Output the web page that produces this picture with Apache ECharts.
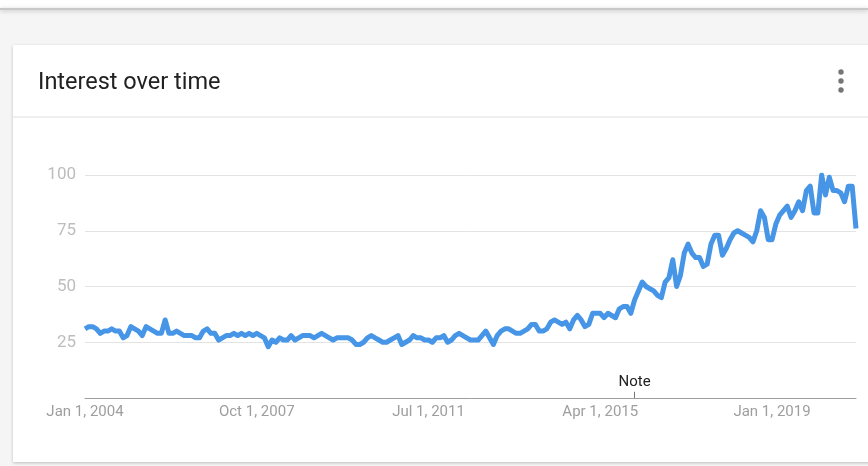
<!DOCTYPE html>
<html>
<head>
<meta charset="utf-8">
<script src="https://cdn.jsdelivr.net/npm/echarts@6/dist/echarts.min.js"></script>
<style>
  html, body { margin: 0; padding: 0; background: #f5f5f5; }
  #chart { width: 868px; height: 466px; }
</style>
</head>
<body>
<div id="chart"></div>
<script>
// ---- data ----
const titleText = 'Interest over time';
const startYear = 2004;
const monthNames = ['Jan','Feb','Mar','Apr','May','Jun','Jul','Aug','Sep','Oct','Nov','Dec'];
const yTicks = [25, 50, 75, 100];
const noteMonth = '2016-01';
const noteText = 'Note';

// monthly interest, Jan 2004 .. Nov 2020
const interest = [
  31,32,32,31,29,30,30,31,30,30,27,28,   // 2004
  32,31,30,28,32,31,30,29,29,35,29,29,   // 2005
  30,29,28,28,28,27,27,30,31,29,29,26,   // 2006
  27,28,28,29,28,29,28,29,28,29,28,27,   // 2007
  23,26,25,27,26,26,28,26,27,28,28,28,   // 2008
  27,28,29,28,27,26,27,27,27,27,26,24,   // 2009
  24,25,27,28,27,26,25,25,26,27,28,24,   // 2010
  25,26,28,27,27,26,26,25,27,27,28,25,   // 2011
  26,28,29,28,27,26,26,26,28,30,27,24,   // 2012
  28,30,31,31,30,29,29,30,31,33,33,30,   // 2013
  30,31,34,35,34,33,34,31,35,37,35,32,   // 2014
  33,38,38,38,36,38,37,36,40,41,41,38,   // 2015
  44,48,52,50,49,48,46,45,52,54,62,50,   // 2016
  55,65,69,65,63,63,59,60,69,73,73,64,   // 2017
  67,71,74,75,74,73,72,70,75,84,81,71,   // 2018
  71,78,82,84,86,81,84,88,84,93,95,83,   // 2019
  83,100,91,99,93,93,92,88,95,95,76      // 2020
];

const months = [];
for (let i = 0; i < interest.length; i++) {
  const y = startYear + Math.floor(i / 12);
  const m = i % 12 + 1;
  months.push(y + '-' + (m < 10 ? '0' + m : m));
}

function fmtDate(cat) {
  const parts = cat.split('-');
  return monthNames[parseInt(parts[1], 10) - 1] + ' 1, ' + parts[0];
}

const chart = echarts.init(document.getElementById('chart'), null, { renderer: 'canvas' });
const option = {
  animation: false,
  backgroundColor: '#f5f5f5',
  textStyle: { fontFamily: 'Roboto, "Noto Sans", sans-serif' },
  title: {
    text: titleText,
    left: 38,
    top: 71,
    padding: 0,
    textStyle: { fontSize: 23.5, fontWeight: 'normal', color: '#212121', fontFamily: 'Roboto' }
  },
  graphic: [
    { type: 'rect', z: -10, shape: { x: 0, y: 0, width: 868, height: 8 }, style: { fill: '#ffffff' } },
    { type: 'rect', z: -9, shape: { x: 0, y: 8, width: 868, height: 2 }, style: { fill: '#c8c8c8', shadowBlur: 4, shadowColor: 'rgba(0,0,0,0.25)', shadowOffsetY: 1 } },
    { type: 'rect', z: -9, shape: { x: 13, y: 45, width: 870, height: 417 }, style: { fill: '#ffffff', shadowBlur: 3, shadowColor: 'rgba(0,0,0,0.22)', shadowOffsetY: 1 } },
    { type: 'rect', z: -8, shape: { x: 13, y: 116.5, width: 870, height: 1 }, style: { fill: '#e0e0e0' } },
    { type: 'circle', z: 5, shape: { cx: 841, cy: 72, r: 2.7 }, style: { fill: '#757575' } },
    { type: 'circle', z: 5, shape: { cx: 841, cy: 81, r: 2.7 }, style: { fill: '#757575' } },
    { type: 'circle', z: 5, shape: { cx: 841, cy: 90, r: 2.7 }, style: { fill: '#757575' } }
  ],
  grid: { left: 85, right: 12, top: 175, bottom: 68, containLabel: false },
  xAxis: {
    type: 'category',
    data: months,
    boundaryGap: false,
    axisLine: { show: true, lineStyle: { color: '#9e9e9e', width: 1 } },
    axisTick: { show: false },
    axisLabel: {
      interval: 44,
      margin: 7,
      color: '#9e9e9e',
      fontSize: 15,
      fontFamily: 'Roboto',
      formatter: function (v) { return fmtDate(v); }
    },
    splitLine: { show: false }
  },
  yAxis: {
    type: 'value',
    min: 0,
    max: 100,
    interval: 25,
    axisLine: { show: false },
    axisTick: { show: false },
    axisLabel: {
      margin: 9,
      color: '#bdbdbd',
      fontSize: 17,
      fontFamily: 'Roboto',
      formatter: function (v) { return yTicks.indexOf(v) >= 0 ? String(v) : ''; }
    },
    splitLine: { show: true, lineStyle: { color: '#e3e3e3', width: 1 } }
  },
  series: [{
    type: 'line',
    data: interest,
    symbol: 'none',
    smooth: false,
    lineStyle: { color: '#4695e6', width: 5, join: 'round' },
    z: 3,
    markLine: {
      silent: true,
      symbol: 'none',
      animation: false,
      lineStyle: { color: '#757575', width: 1, type: 'solid' },
      label: {
        show: true,
        position: 'end',
        formatter: noteText,
        color: '#212121',
        fontSize: 15,
        fontFamily: 'Roboto',
        distance: 2
      },
      data: [[{ coord: [noteMonth, 0] }, { coord: [noteMonth, 2.8] }]]
    }
  }]
};
chart.setOption(option);
</script>
</body>
</html>
